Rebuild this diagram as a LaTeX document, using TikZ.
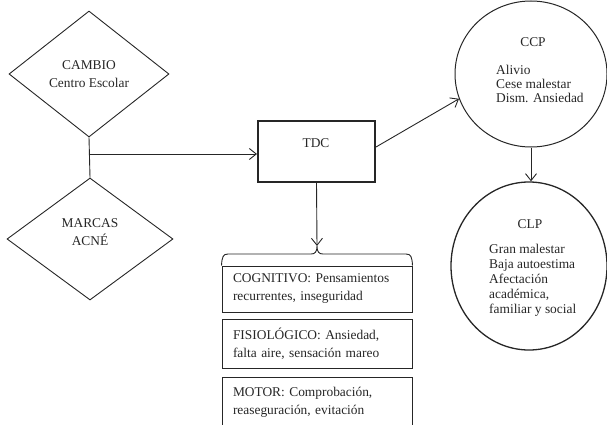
\documentclass[tikz,border=0pt]{standalone}
\usepackage{fontspec}
\setmainfont{Liberation Serif}
\usetikzlibrary{shapes.geometric,arrows.meta,calc}
\begin{document}
\begin{tikzpicture}[x=1pt,y=-1pt,
  every node/.style={font=\fontsize{13.4}{18}\selectfont, inner sep=0pt, text=black!85},
  line/.style={line width=0.9pt, draw=black!85},
  arr/.style={line, -{Straight Barb[length=7pt,width=11pt,line width=0.9pt]}},
  dia/.style={diamond, draw=black!85, line width=0.9pt, inner sep=0pt},
  boxn/.style={draw=black!85, line width=1pt, minimum width=190pt, text width=168pt, align=left, inner xsep=11pt, inner ysep=0pt},
  ell/.style={ellipse, draw=black!85, inner sep=0pt}
]
\clip (0,0) rectangle (607,425);
% diamonds
\node[dia, minimum width=160pt, minimum height=126pt, align=center] (cambio) at (89,74) {CAMBIO\\Centro Escolar};
\node[dia, minimum width=166pt, minimum height=122pt] (marcas) at (90,239) {};
\node[align=center] (marcastxt) at (90,232) {MARCAS\\ACNÉ};
% TDC
\node[draw=black!85, line width=2pt, minimum width=117pt, minimum height=61pt] (tdc) at (316.5,151.5) {};
\node (tdctxt) at (316,143) {TDC};
% boxes
\node[boxn, minimum height=46pt] (cog) at (317,289) {COGNITIVO: Pensamientos\\recurrentes, inseguridad};
\node[boxn, minimum height=49pt] (fis) at (317,343.5) {FISIOLÓGICO: Ansiedad,\\falta aire, sensación mareo};
\node[boxn, minimum height=51pt] (mot) at (317,402.5) {MOTOR: Comprobación,\\reaseguración, evitación};
% brace
\coordinate (bracetip) at (317,246);
\draw[line] (cog.north west) .. controls (222,257) and (223,254) .. (228,254) -- (311,254)
  .. controls (315,254) and (317,252) .. (bracetip)
  .. controls (317,252) and (319,254) .. (323,254) -- (406,254)
  .. controls (411,254) and (412,257) .. (cog.north east);
% ellipses
\node[ell, line width=1pt, minimum width=152pt, minimum height=146pt] (ccp) at (531,74) {};
\node (ccpt) at (533,42) {CCP};
\node[align=left, anchor=west, font=\fontsize{13.4}{14}\selectfont] (ccpb) at (496,84) {Alivio\\Cese malestar\\Dism. Ansiedad};
\node[ell, line width=1.3pt, minimum width=156pt, minimum height=168pt] (clp) at (529,266) {};
\node (clpt) at (530,224) {CLP};
\node[align=left, anchor=west, font=\fontsize{13.4}{15}\selectfont] (clpb) at (489,280) {Gran malestar\\Baja autoestima\\Afectación\\académica,\\familiar y social};
% connectors
\coordinate (j) at (89,154);
\draw[line] (cambio.south) -- (marcas.north);
\draw[arr] (j) -- (j -| tdc.west);
\draw[arr] (tdc.south) -- (bracetip);
\draw[arr] ([yshift=4.5pt]tdc.east) -- (ccp.199);
\draw[arr] (ccp.south) -- (ccp.south |- clp.north);
\end{tikzpicture}
\end{document}
